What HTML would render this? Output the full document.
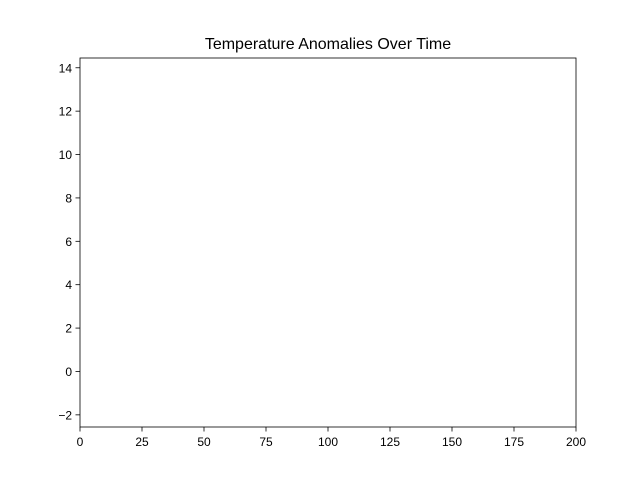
<!DOCTYPE html>
<html><head><meta charset="utf-8"><style>
body{margin:0;background:#fff;}
svg{display:block;font-family:"Liberation Sans","DejaVu Sans",sans-serif;}
</style></head><body>
<svg id="chart" width="640" height="480">
<text x="328" y="49" font-size="16" text-anchor="middle">Temperature Anomalies Over Time</text>
<g id="axes"></g>
</svg>
<script>
const xTicks = [0, 25, 50, 75, 100, 125, 150, 175, 200];
const yTicks = [-2, 0, 2, 4, 6, 8, 10, 12, 14];
const xDomain = [0, 200];
const yDomain = [-2.56, 14.45];
const L = 80, R = 576, T = 58, B = 427;
function xs(v){return L + (v - xDomain[0]) / (xDomain[1] - xDomain[0]) * (R - L);}
function ys(v){return B - (v - yDomain[0]) / (yDomain[1] - yDomain[0]) * (B - T);}
const g = document.getElementById('axes');
const NS = 'http://www.w3.org/2000/svg';
function mk(tag, attrs){const e = document.createElementNS(NS, tag); for (const k in attrs) e.setAttribute(k, attrs[k]); g.appendChild(e); return e;}
xTicks.forEach(v => {
  const x = xs(v);
  const t = mk('line', {x1:x, x2:x, y1:B, y2:B+4.5, stroke:'#000', 'stroke-width':0.8});
  
  
  const l = mk('text', {x:x, y:B+19, 'font-size':12, 'text-anchor':'middle'});
  l.textContent = v;
  
  
});
yTicks.forEach(v => {
  const y = ys(v);
  const t = mk('line', {x1:L-4.5, x2:L, y1:y, y2:y, stroke:'#000', 'stroke-width':0.8});
  
  
  const l = mk('text', {x:L-8, y:y+4.5, 'font-size':12, 'text-anchor':'end'});
  l.textContent = v < 0 ? '\u2212' + Math.abs(v) : v;
  
  
});
const f = mk('rect', {x:L, y:T, width:R-L, height:B-T, fill:'none', stroke:'#000', 'stroke-width':0.8});


</script>
</body></html>
